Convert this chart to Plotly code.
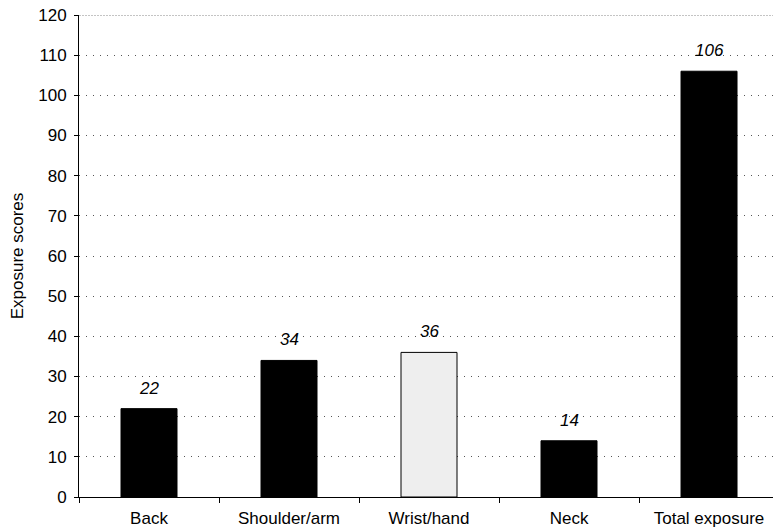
import plotly.graph_objects as go

# Exposure scores by body region
categories = ["Back", "Shoulder/arm", "Wrist/hand", "Neck", "Total exposure"]
scores = [22, 34, 36, 14, 106]
bar_colors = ["#000000", "#000000", "#eeeeee", "#000000", "#000000"]
y_ticks = list(range(0, 121, 10))

FONT = "Liberation Sans, Arial, Helvetica, sans-serif"
FS = 17

fig = go.Figure()
fig.add_trace(go.Bar(
    x=categories,
    y=scores,
    marker=dict(color=bar_colors, line=dict(color="#000000", width=1)),
    showlegend=False,
    hoverinfo="skip",
))

# Italic value labels above each bar
for cat, val in zip(categories, scores):
    fig.add_annotation(
        x=cat, y=val, text=str(val), showarrow=False,
        yanchor="bottom", yshift=9,
        font=dict(family=FONT, size=FS, color="#000000", style="italic"),
    )

# Top border of the plotting area
fig.add_shape(
    type="line", xref="paper", yref="y", x0=0, x1=1, y0=120, y1=120,
    line=dict(color="#8a8a8a", width=1, dash="2px,1px"),
)

fig.update_layout(
    width=773, height=530,
    margin=dict(l=79, r=0, t=15, b=33),
    paper_bgcolor="white", plot_bgcolor="white",
    bargap=0.6,
    font=dict(family=FONT, size=FS, color="#000000"),
    xaxis=dict(
        type="category",
        range=[-0.5, 4.457],
        showline=True, linecolor="#000000", linewidth=1,
        ticks="outside", ticklen=5, tickcolor="#000000",
        tickson="boundaries",
        ticklabelstandoff=6,
        showgrid=False, zeroline=False,
        tickfont=dict(family=FONT, size=FS),
    ),
    yaxis=dict(
        range=[0, 120],
        tickvals=y_ticks,
        showline=True, linecolor="#000000", linewidth=1,
        ticks="outside", ticklen=4, tickcolor="#000000",
        ticklabelstandoff=4,
        showgrid=True, gridcolor="#555555", griddash="1px,6px", gridwidth=1,
        zeroline=False,
        title=dict(text="Exposure scores", font=dict(family=FONT, size=FS), standoff=10),
        tickfont=dict(family=FONT, size=FS),
    ),
)

fig.write_html("out.html")
